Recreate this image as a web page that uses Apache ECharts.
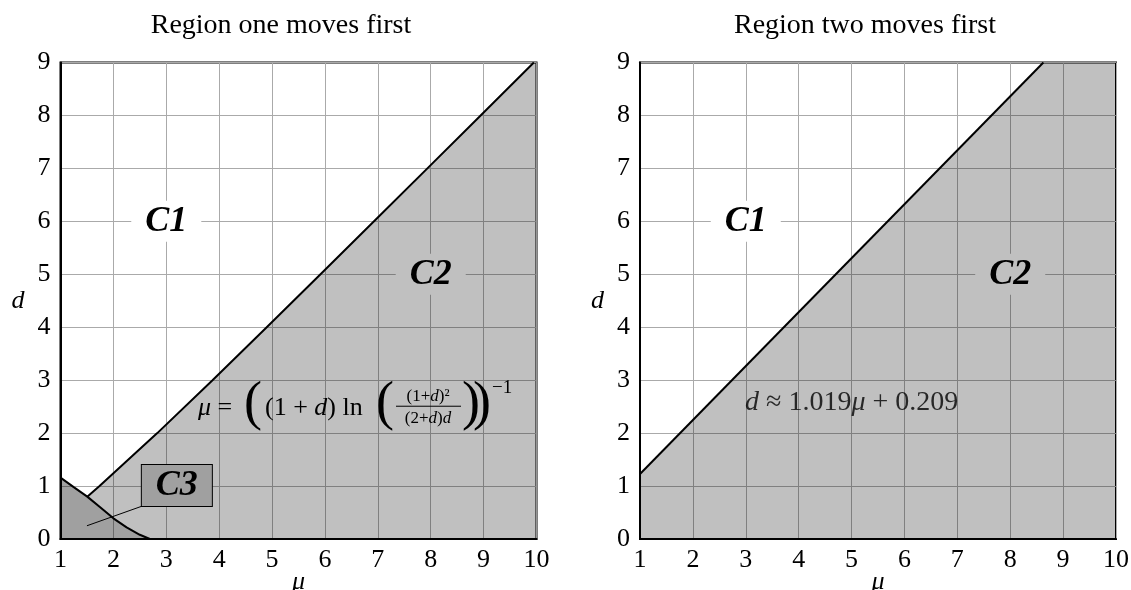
<!DOCTYPE html>
<html>
<head>
<meta charset="utf-8">
<script src="https://cdn.jsdelivr.net/npm/echarts@6/dist/echarts.min.js"></script>
<style>
  html, body { margin: 0; padding: 0; background: #fff; }
  #chart { width: 1131px; height: 590px; }
</style>
</head>
<body>
<div id="chart"></div>
<script>
// Axis ranges / tick labels
const muTicks = [1, 2, 3, 4, 5, 6, 7, 8, 9, 10];
const dTicks = [0, 1, 2, 3, 4, 5, 6, 7, 8, 9];

// Region one moves first: C1/C2 boundary  mu = ((1+d) ln((1+d)^2/((2+d)d)))^-1
const boundaryOne = [
  [1.506, 0.8], [1.738, 1], [2.830, 2], [3.874, 3], [4.899, 4],
  [5.916, 5], [6.928, 6], [7.937, 7], [8.944, 8], [9.950, 9]
];
// Region one moves first: lower boundary of C3
const c3Boundary = [
  [1, 1.16], [1.25, 0.98], [1.506, 0.8], [1.75, 0.6], [2, 0.39],
  [2.25, 0.22], [2.5, 0.08], [2.69, 0]
];
// Region two moves first: d = 1.019 mu + 0.209
const boundaryTwo = [[1, 1.228], [8.627, 9]];
// Leader from the C3 tag into the region
const c3Leader = [[1.5, 0.25], [2.54, 0.62]];

const SERIF = '"Liberation Serif", "DejaVu Serif", serif';
const muMin = muTicks[0], muMax = muTicks[muTicks.length - 1];
const dMin = dTicks[0], dMax = dTicks[dTicks.length - 1];

// Polygons for shaded regions
const leftC2 = boundaryOne.concat([[muMax, dMax], [muMax, dMin]])
  .concat(c3Boundary.slice(2).reverse());
const leftC3 = c3Boundary.concat([[muMin, dMin]]);
const rightC2 = boundaryTwo.concat([[muMax, dMax], [muMax, dMin], [muMin, dMin]]);

const LIGHT = 'rgba(0,0,0,0.247)';
const DARK = 'rgba(0,0,0,0.373)';

function polygonSeries(idx, pts, fill) {
  return {
    type: 'custom', xAxisIndex: idx, yAxisIndex: idx, silent: true, z: 1,
    data: [[muMin, dMin]],
    renderItem: function (params, api) {
      return {
        type: 'polygon',
        shape: { points: pts.map(function (p) { return api.coord(p); }) },
        style: { fill: fill, stroke: null }
      };
    }
  };
}

function lineSeries(idx, pts, width) {
  return {
    type: 'line', xAxisIndex: idx, yAxisIndex: idx, silent: true, z: 3,
    data: pts, symbol: 'none',
    lineStyle: { color: '#000', width: width }
  };
}

const tagFont = { fontFamily: SERIF, fontWeight: 'bold', fontStyle: 'italic', fontSize: 36, lineHeight: 34,
  color: '#000', textBorderWidth: 0, opacity: 1 };

function tagSeries(idx, items) {
  return {
    type: 'scatter', xAxisIndex: idx, yAxisIndex: idx, silent: true, z: 5,
    symbolSize: 0.1, itemStyle: { color: 'transparent' },
    data: items.map(function (it) {
      return {
        value: it.at,
        label: Object.assign({
          show: true, position: 'inside', formatter: it.text,
          backgroundColor: it.bg, padding: [4, 14, 3, 14],
          borderColor: it.border || 'transparent', borderWidth: it.border ? 1 : 0
        }, tagFont)
      };
    })
  };
}

function xAxisCfg(idx) {
  return {
    gridIndex: idx, type: 'value', min: muMin, max: muMax, interval: 1,
    name: 'μ', nameLocation: 'middle', nameGap: 30, nameMoveOverlap: false,
    nameTextStyle: { fontFamily: SERIF, fontStyle: 'italic', fontSize: 26, color: '#000' },
    axisLine: { show: true, lineStyle: { color: '#000', width: 2 } },
    axisTick: { show: false },
    axisLabel: { fontFamily: SERIF, fontSize: 26, color: '#000', margin: 8 },
    splitLine: { show: true, lineStyle: { color: '#aaaaaa', width: 1 } }
  };
}
function yAxisCfg(idx) {
  return {
    gridIndex: idx, type: 'value', min: dMin, max: dMax, interval: 1,
    name: 'd', nameLocation: 'middle', nameGap: 36, nameRotate: 0, nameMoveOverlap: false,
    nameTextStyle: { fontFamily: SERIF, fontStyle: 'italic', fontSize: 26, color: '#000' },
    axisLine: { show: true, lineStyle: { color: '#000', width: 2 } },
    axisTick: { show: false },
    axisLabel: { fontFamily: SERIF, fontSize: 26, color: '#000', margin: 10 },
    splitLine: { show: true, lineStyle: { color: '#aaaaaa', width: 1 } }
  };
}

const chart = echarts.init(document.getElementById('chart'), null, { renderer: 'canvas' });

const gridBase = { top: 62.5, width: 476, height: 476.5, show: true, borderColor: '#000', borderWidth: 2,
  backgroundColor: 'transparent', containLabel: false, outerBoundsMode: 'none' };

const option = {
  animation: false,
  backgroundColor: '#fff',
  title: [
    { text: 'Region one moves first', left: 276, top: 7, textAlign: 'center',
      textStyle: { fontFamily: SERIF, fontWeight: 'normal', fontSize: 28, color: '#000' } },
    { text: 'Region two moves first', left: 860, top: 7, textAlign: 'center',
      textStyle: { fontFamily: SERIF, fontWeight: 'normal', fontSize: 28, color: '#000' } }
  ],
  grid: [
    Object.assign({ left: 60.5 }, gridBase),
    Object.assign({ left: 640 }, gridBase)
  ],
  xAxis: [xAxisCfg(0), xAxisCfg(1)],
  yAxis: [yAxisCfg(0), yAxisCfg(1)],
  series: [
    polygonSeries(0, leftC2, LIGHT),
    polygonSeries(0, leftC3, DARK),
    polygonSeries(1, rightC2, LIGHT),
    lineSeries(0, boundaryOne, 2),
    lineSeries(0, c3Boundary, 2),
    lineSeries(1, boundaryTwo, 2),
    Object.assign(lineSeries(0, c3Leader, 1), { z: 4 }),
    tagSeries(0, [
      { at: [3, 6], text: 'C1', bg: '#ffffff' },
      { at: [8, 5], text: 'C2', bg: '#c0c0c0' },
      { at: [3.2, 1.01], text: 'C3', bg: '#a0a0a0', border: '#000' }
    ]),
    tagSeries(1, [
      { at: [3, 6], text: 'C1', bg: '#ffffff' },
      { at: [8, 5], text: 'C2', bg: '#c0c0c0' }
    ]),
    {
      type: 'scatter', xAxisIndex: 1, yAxisIndex: 1, silent: true, z: 5,
      symbolSize: 0.1, itemStyle: { color: 'transparent' },
      data: [{
        value: [2.985, 2.57],
        label: {
          show: true, position: 'right', distance: 0,
          formatter: '{i|d} ≈ 1.019{i|μ} + 0.209',
          fontFamily: SERIF, fontSize: 28, color: '#000', textBorderWidth: 0,
          rich: { i: { fontFamily: SERIF, fontStyle: 'italic', fontSize: 28, color: '#000', textBorderWidth: 0 } }
        }
      }]
    }
  ]
};
chart.setOption(option);

// Left formula, built from pieces and anchored in data coordinates
const origin = chart.convertToPixel({ xAxisIndex: 0, yAxisIndex: 0 }, [3.6, 2.47]);
function t(x, y, text, font, align, rich) {
  return { type: 'text', x: x, y: y, silent: true,
    style: { text: text, font: font, fill: '#000', align: align || 'left', verticalAlign: 'middle', rich: rich } };
}
const F = '26px ' + SERIF, FI = 'italic 26px ' + SERIF;
const S = '17px ' + SERIF, SI = 'italic 17px ' + SERIF;
const BIG = '54px ' + SERIF;
const richMain = { i: { font: FI, fill: '#000' } };
const richSmall = { i: { font: SI, fill: '#000' } };
chart.setOption({
  graphic: [{
    type: 'group', x: origin[0], y: origin[1], z: 10, silent: true,
    children: [
      t(0, 0, '{i|μ} =', F, 'left', richMain),
      t(46, -3, '(', BIG),
      t(67, 0, '(1 + {i|d}) ln', F, 'left', richMain),
      t(178, -3, '(', BIG),
      t(230, -12, '(1+{i|d})²', S, 'center', richSmall),
      { type: 'line', silent: true, shape: { x1: 198, y1: -2, x2: 263, y2: -2 }, style: { stroke: '#000', lineWidth: 1 } },
      t(230, 10, '(2+{i|d}){i|d}', S, 'center', richSmall),
      t(264, -3, ')', BIG),
      t(275, -3, ')', BIG),
      t(294, -20, '−1', '19px ' + SERIF)
    ]
  }]
});
</script>
</body>
</html>
